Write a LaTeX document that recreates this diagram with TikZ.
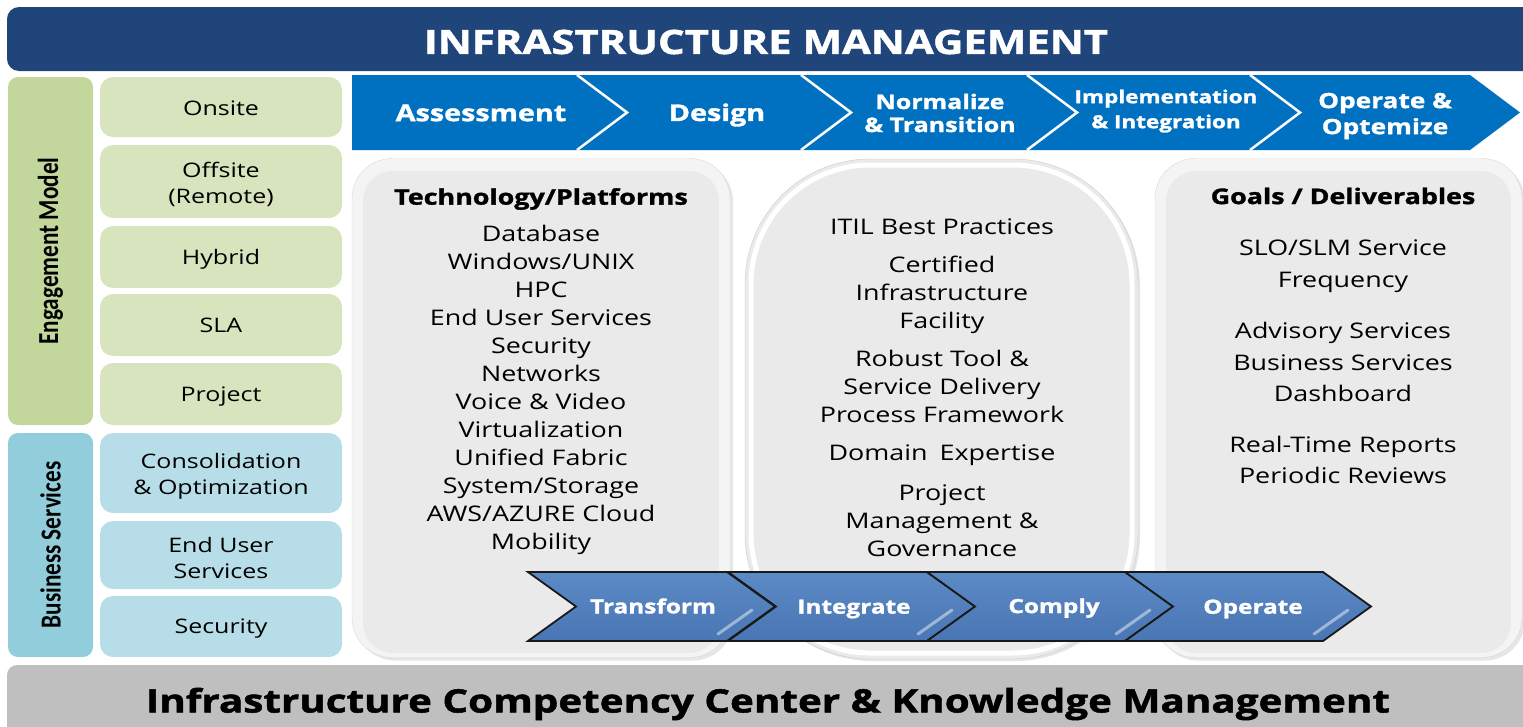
\documentclass[tikz,border=0pt]{standalone}
\usepackage{fontspec}
\setmainfont[FakeStretch=1.25,BoldFeatures={FakeBold=1.5}]{Open Sans}
\newfontfamily\sidefont[FakeStretch=0.8]{Carlito}
\usetikzlibrary{shadows}
\definecolor{titleblue}{HTML}{1F457B}
\definecolor{procblue}{HTML}{0070C0}
\definecolor{chevtop}{HTML}{5C8AC5}
\definecolor{chevbot}{HTML}{4976B4}
\definecolor{enggreen}{HTML}{C3D69B}
\definecolor{boxgreen}{HTML}{D7E4BD}
\definecolor{busblue}{HTML}{92CDDC}
\definecolor{boxblue}{HTML}{B7DEE8}
\definecolor{panelgray}{HTML}{EAEAEA}
\definecolor{panelrim}{HTML}{F4F4F4}
\definecolor{footgray}{HTML}{BFBFBF}
\begin{document}
\begin{tikzpicture}[x=1pt,y=-1pt,
    sidebar/.style={rounded corners=10pt,inner sep=0pt,minimum width=85pt},
    sidelabel/.style={rotate=90,inner sep=0pt,font=\sidefont\bfseries\fontsize{29}{30}\selectfont},
    itembox/.style={rounded corners=13pt,minimum width=242pt,inner sep=0pt,align=center,
        font=\fontsize{20}{26}\selectfont},
    panel/.style={fill=panelrim,draw=black!15,rounded corners=40pt,
        drop shadow={shadow xshift=3pt,shadow yshift=-3pt,opacity=0.2}},
    panelcore/.style={fill=panelgray,rounded corners=30pt},
    paneltitle/.style={inner sep=0pt,font=\bfseries\fontsize{21.5}{26}\selectfont},
    paneltext/.style={inner sep=0pt,align=center,font=\fontsize{21.5}{28}\selectfont},
    proctext/.style={inner sep=0pt,align=center,text=white,font=\bfseries\fontsize{23}{26}\selectfont},
    sepline/.style={draw=white,line width=2.5pt},
    chev/.style={draw=black!90,line width=1.8pt,top color=chevtop,bottom color=chevbot},
    gloss/.style={draw=white,opacity=0.45,line width=3pt,line cap=round},
    chevtext/.style={inner sep=0pt,text=white,font=\bfseries\fontsize{19.5}{22}\selectfont}]
\useasboundingbox (0,0) rectangle (1523,726);

% banner and footer
\node[fill=titleblue,rounded corners=12pt,minimum width=1530pt,minimum height=64pt] (banner) at (772,39) {};
\node[text=white,font=\bfseries\fontsize{33.5}{38}\selectfont] (bannertext) at (766,42) {INFRASTRUCTURE MANAGEMENT};
\node[fill=footgray,rounded corners=10pt,minimum width=1530pt,minimum height=80pt] (footer) at (772,705) {};
\node[font=\bfseries\fontsize{32.3}{36}\selectfont] (footertext) at (768,704) {Infrastructure Competency Center \& Knowledge Management};

% left columns
\node[sidebar,fill=enggreen,minimum height=348pt] (engbar) at (50.5,251) {};
\node[sidelabel] (englabel) at (engbar.center) {Engagement Model};
\node[sidebar,fill=busblue,minimum height=224pt] (busbar) at (50.5,545) {};
\node[sidelabel] (buslabel) at (busbar.center) {Business Services};
\node[itembox,fill=boxgreen,minimum height=60pt] (onsite) at (221,107) {};
\node[itembox] (onsitetext) at (221,108) {Onsite};
\node[itembox,fill=boxgreen,minimum height=73pt] (offsite) at (221,181.5) {};
\node[itembox] (offsitetext) at (221,184.5) {Offsite\\(Remote)};
\node[itembox,fill=boxgreen,minimum height=62pt] (hybrid) at (221,257) {};
\node[itembox] (hybridtext) at (221,259) {Hybrid};
\node[itembox,fill=boxgreen,minimum height=62pt] (sla) at (221,325) {SLA};
\node[itembox,fill=boxgreen,minimum height=62pt] (project) at (221,394) {};
\node[itembox] (projecttext) at (221,397) {Project};
\node[itembox,fill=boxblue,minimum height=80pt] (consol) at (221,473) {};
\node[itembox] (consoltext) at (221,476) {Consolidation\\\& Optimization};
\node[itembox,fill=boxblue,minimum height=68pt] (enduser) at (221,555) {};
\node[itembox] (endusertext) at (221,558) {End User\\Services};
\node[itembox,fill=boxblue,minimum height=61pt] (security) at (221,626.5) {};
\node[itembox] (securitytext) at (221,628.5) {Security};

% process band
\fill[procblue] (352,75) -- (1470,75) -- (1520,112.5) -- (1470,150) -- (352,150) -- cycle;
\draw[sepline] (577,75) -- (627,112.5) -- (577,150);
\draw[sepline] (801,75) -- (851,112.5) -- (801,150);
\draw[sepline] (1027,75) -- (1077,112.5) -- (1027,150);
\draw[sepline] (1250,75) -- (1300,112.5) -- (1250,150);
\node[proctext] (assess) at (481,113) {Assessment};
\node[proctext] (design) at (717,115) {Design};
\node[proctext,font=\bfseries\fontsize{20}{23}\selectfont] (normalize) at (940,113) {Normalize\\\& Transition};
\node[proctext,font=\bfseries\fontsize{18}{25}\selectfont] (implement) at (1166,111) {Implementation\\\& Integration};
\node[proctext,font=\bfseries\fontsize{21}{26}\selectfont] (optimize) at (1385,116) {Operate \&\\Optemize};

% panels
\node[panel,minimum width=378pt,minimum height=499pt] (techpanel) at (541,408) {};
\node[panelcore,minimum width=356pt,minimum height=482pt] (techcore) at (541,412) {};
\node[panel,minimum width=367pt,minimum height=499pt] (goalpanel) at (1338.5,408) {};
\node[panelcore,minimum width=345pt,minimum height=482pt] (goalcore) at (1338.5,412) {};
\node[fill=panelgray,draw=black!20,rounded corners=125pt,minimum width=393pt,minimum height=500pt,
    drop shadow={shadow xshift=2pt,shadow yshift=-2pt,opacity=0.2}] (bestpanel) at (941.5,409) {};
\node[draw=white,line width=5pt,rounded corners=119pt,minimum width=381pt,minimum height=488pt] (bestring) at (bestpanel.center) {};

% panel texts
\node[paneltitle] (techtitle) at (541,199) {Technology/Platforms};
\node[paneltext] (techlist) at (541,390) {Database\\Windows/UNIX\\HPC\\End User Services\\Security\\Networks\\Voice \& Video\\Virtualization\\Unified Fabric\\System/Storage\\AWS/AZURE Cloud\\Mobility};
\node[paneltext] (itil) at (942,227) {ITIL Best Practices};
\node[paneltext] (certified) at (942,295) {Certified\\Infrastructure\\Facility};
\node[paneltext] (robust) at (942,386) {Robust Tool \&\\Service Delivery\\Process Framework};
\node[paneltext] (domain) at (942,455) {Domain\hspace{5pt} Expertise};
\node[paneltext] (projmgmt) at (942,521) {Project\\Management \&\\Governance};
\node[paneltitle] (goalstitle) at (1343,196) {Goals / Deliverables};
\node[paneltext,font=\fontsize{21.5}{32}\selectfont] (slo) at (1343,266) {SLO/SLM Service\\Frequency};
\node[paneltext,font=\fontsize{21.5}{31.5}\selectfont] (advisory) at (1343,362) {Advisory Services\\Business Services\\Dashboard};
\node[paneltext,font=\fontsize{21.5}{31}\selectfont] (reports) at (1343,459.5) {Real-Time Reports\\Periodic Reviews};

% lower chevrons
\draw[chev] (528,572) -- (727,572) -- (775,606.5) -- (727,641) -- (528,641) -- (576,606.5) -- cycle;
\draw[gloss] (718,634) -- (752,610);
\draw[chev] (728,572) -- (927,572) -- (975,606.5) -- (927,641) -- (728,641) -- (776,606.5) -- cycle;
\draw[gloss] (918,634) -- (952,610);
\draw[chev] (927,572) -- (1125,572) -- (1173,606.5) -- (1125,641) -- (927,641) -- (975,606.5) -- cycle;
\draw[gloss] (1116,634) -- (1150,610);
\draw[chev] (1125,572) -- (1323,572) -- (1371,606.5) -- (1323,641) -- (1125,641) -- (1173,606.5) -- cycle;
\draw[gloss] (1314,634) -- (1348,610);
\node[chevtext] (transform) at (653,606) {Transform};
\node[chevtext] (integrate) at (854,609) {Integrate};
\node[chevtext] (comply) at (1054,608) {Comply};
\node[chevtext] (operate) at (1253,609) {Operate};
\end{tikzpicture}
\end{document}
